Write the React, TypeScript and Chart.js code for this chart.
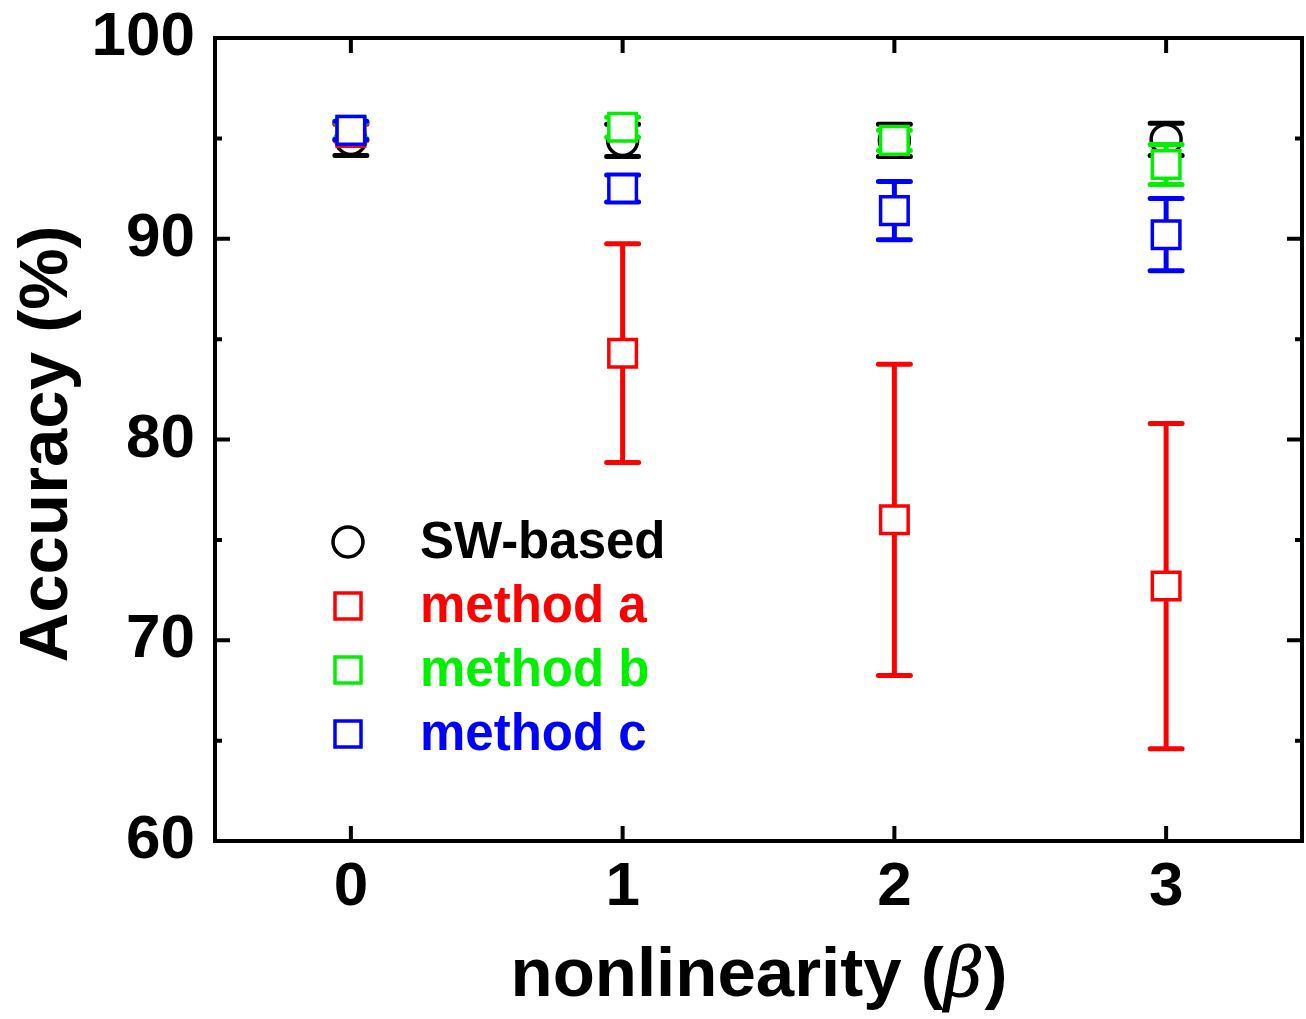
import React, { useEffect, useRef } from 'react';
import { Chart, registerables } from 'chart.js';

Chart.register(...registerables);

const xValues = [0, 1, 2, 3];
const xTicks = [0, 1, 2, 3];
const yMajorTicks = [60, 70, 80, 90, 100];
const yMinorTicks = [65, 75, 85, 95];
const seriesLabels = ['SW-based', 'method a', 'method b', 'method c'];
const seriesColors = ['#000000', '#ff0000', '#00f000', '#0000ff'];
const swBased = [94.95, 94.9, 94.9, 94.95];
const swBasedErr = [0.8, 0.8, 0.8, 0.8];
const methodA = [95.3, 84.3, 76.0, 72.7];
const methodAErr = [0.4, 5.45, 7.75, 8.1];
const methodB = [95.4, 95.55, 94.9, 93.7];
const methodBErr = [0.4, 0.5, 0.5, 1.0];
const methodC = [95.4, 92.5, 91.4, 90.2];
const methodCErr = [0.45, 0.67, 1.45, 1.8];
const xTitle = ['nonlinearity (', 'β', ')'];
const yTitle = 'Accuracy (%)';

const FONT = "Arial, 'Liberation Sans', sans-serif";
const CANVAS_W = 1306;
const CANVAS_H = 1019;
const AREA_RIGHT = 1302;

const errorBarPlugin = {
  id: 'errorBars',
  beforeDatasetDraw(chart: any, args: any) {
    const ds = chart.data.datasets[args.index];
    const errs: number[] = ds.errors || [];
    const yScale = chart.scales.y;
    const ctx = chart.ctx;
    ctx.save();
    ctx.strokeStyle = ds.borderColor;
    ctx.lineWidth = 5;
    ctx.lineCap = 'round';
    args.meta.data.forEach((pt: any, i: number) => {
      const v = ds.data[i].y;
      const e = errs[i] || 0;
      const yTop = yScale.getPixelForValue(v + e);
      const yBot = yScale.getPixelForValue(v - e);
      const x = pt.x;
      const cap = 16;
      ctx.beginPath();
      ctx.moveTo(x, yTop);
      ctx.lineTo(x, yBot);
      ctx.moveTo(x - cap, yTop);
      ctx.lineTo(x + cap, yTop);
      ctx.moveTo(x - cap, yBot);
      ctx.lineTo(x + cap, yBot);
      ctx.stroke();
    });
    ctx.restore();
  },
  afterDraw(chart: any) {
    const ctx = chart.ctx;
    const { left, right, top, bottom } = chart.chartArea;
    const xs = chart.scales.x;
    const ys = chart.scales.y;
    ctx.save();
    ctx.strokeStyle = '#000';
    ctx.lineWidth = 4;
    ctx.lineCap = 'square';
    ctx.strokeRect(left, top, right - left, bottom - top);
    ctx.lineCap = 'butt';
    const major = 15;
    const minor = 7;
    ctx.beginPath();
    xTicks.forEach((v) => {
      const x = xs.getPixelForValue(v);
      ctx.moveTo(x, bottom);
      ctx.lineTo(x, bottom - major);
      ctx.moveTo(x, top);
      ctx.lineTo(x, top + major);
    });
    yMajorTicks.forEach((v) => {
      const y = ys.getPixelForValue(v);
      ctx.moveTo(left, y);
      ctx.lineTo(left + major, y);
      ctx.moveTo(right, y);
      ctx.lineTo(right - major, y);
    });
    yMinorTicks.forEach((v) => {
      const y = ys.getPixelForValue(v);
      ctx.moveTo(left, y);
      ctx.lineTo(left + minor, y);
      ctx.moveTo(right, y);
      ctx.lineTo(right - minor, y);
    });
    ctx.stroke();

    // legend
    const lx = left + 133;
    const tx = left + 205;
    const ly0 = 542;
    const dy = 64;
    chart.data.datasets.forEach((ds: any, i: number) => {
      const y = ly0 + i * dy;
      ctx.strokeStyle = ds.borderColor;
      ctx.fillStyle = '#fff';
      ctx.lineWidth = 3.5;
      ctx.beginPath();
      if (ds.pointStyle === 'circle') {
        ctx.arc(lx, y, 15, 0, Math.PI * 2);
      } else {
        ctx.rect(lx - 13, y - 13, 26, 26);
      }
      ctx.fill();
      ctx.stroke();
      ctx.fillStyle = ds.borderColor;
      ctx.font = `bold 51px ${FONT}`;
      ctx.textAlign = 'left';
      ctx.textBaseline = 'middle';
      ctx.fillText(ds.label, tx, y + 2);
    });

    // x title
    ctx.fillStyle = '#000';
    ctx.textBaseline = 'alphabetic';
    const fB = `bold 69px ${FONT}`;
    const fI = `italic 74px 'Liberation Serif', 'Times New Roman', serif`;
    ctx.font = fB;
    const w0 = ctx.measureText(xTitle[0]).width;
    const w2 = ctx.measureText(xTitle[2]).width;
    ctx.font = fI;
    const w1 = ctx.measureText(xTitle[1]).width;
    const gap = 4;
    const cx = 759 - (w0 + w1 + w2 + gap) / 2;
    const by = 996;
    ctx.textAlign = 'left';
    ctx.font = fB;
    ctx.fillText(xTitle[0], cx, by);
    ctx.font = fI;
    ctx.fillText(xTitle[1], cx + w0, by);
    ctx.lineWidth = 1.2;
    ctx.strokeStyle = '#000';
    ctx.strokeText(xTitle[1], cx + w0, by);
    ctx.font = fB;
    ctx.fillText(xTitle[2], cx + w0 + w1 + gap, by);

    // y title
    ctx.save();
    ctx.translate(48, 444);
    ctx.rotate(-Math.PI / 2);
    ctx.font = `bold 69px ${FONT}`;
    ctx.textAlign = 'center';
    ctx.textBaseline = 'middle';
    ctx.fillText(yTitle, 0, 0);
    ctx.restore();
    ctx.restore();
  },
};

function makeData(vals: number[]) {
  return xValues.map((x, i) => ({ x, y: vals[i] }));
}

function zeroPadding(scale: any) {
  scale.paddingLeft = 0;
  scale.paddingRight = 0;
  scale.paddingTop = 0;
  scale.paddingBottom = 0;
}

const fixAreaPlugin = {
  id: 'fixArea',
  afterLayout(chart: any) {
    const ca = chart.chartArea;
    const diff = AREA_RIGHT - ca.right;
    if (Math.abs(diff) > 0.5) {
      ca.right = AREA_RIGHT;
      ca.width = ca.right - ca.left;
      const xs = chart.scales.x;
      xs.right = AREA_RIGHT;
      xs.width = xs.right - xs.left;
      xs.configure();
    }
  },
};

export default function App() {
  const ref = useRef<HTMLCanvasElement>(null);
  useEffect(() => {
    if (!ref.current) return;
    const seriesVals = [swBased, methodA, methodB, methodC];
    const seriesErrs = [swBasedErr, methodAErr, methodBErr, methodCErr];
    const chart = new Chart(ref.current, {
      type: 'scatter',
      data: {
        datasets: seriesLabels.map((label, i) => ({
          label,
          data: makeData(seriesVals[i]),
          errors: seriesErrs[i],
          borderColor: seriesColors[i],
          backgroundColor: '#ffffff',
          pointStyle: i === 0 ? 'circle' : 'rect',
          pointRadius: i === 0 ? 15 : 19.5,
          pointHoverRadius: i === 0 ? 15 : 19.5,
          pointBorderWidth: 3.5,
          pointHoverBorderWidth: 3.5,
          pointBackgroundColor: '#ffffff',
          showLine: false,
          order: 4 - i,
          clip: false,
        })) as any,
      },
      options: {
        animation: false,
        responsive: false,
        events: [],
        layout: { padding: { top: 38, right: 4, left: 0, bottom: 0 } },
        plugins: { legend: { display: false }, tooltip: { enabled: false } },
        scales: {
          x: {
            type: 'linear',
            min: -0.5,
            max: 3.5,
            grid: { display: false, drawTicks: false },
            border: { display: false },
            afterBuildTicks: (scale: any) => {
              scale.ticks = xTicks.map((v) => ({ value: v }));
            },
            afterFit: (scale: any) => {
              scale.height = 178;
              zeroPadding(scale);
            },
            ticks: {
              color: '#000',
              padding: 10,
              maxRotation: 0,
              font: { family: FONT, size: 62, weight: 'bold' },
              callback: (v: any) => String(v),
            },
          },
          y: {
            type: 'linear',
            min: 60,
            max: 100,
            grid: { display: false, drawTicks: false },
            border: { display: false },
            afterBuildTicks: (scale: any) => {
              scale.ticks = yMajorTicks.map((v) => ({ value: v }));
            },
            afterFit: (scale: any) => {
              scale.width = 215;
              zeroPadding(scale);
            },
            ticks: {
              color: '#000',
              padding: 20,
              font: { family: FONT, size: 62, weight: 'bold' },
              callback: (v: any) => String(v),
            },
          },
        },
      } as any,
      plugins: [fixAreaPlugin, errorBarPlugin],
    });
    return () => chart.destroy();
  }, []);
  return (
    <div style={{ position: 'fixed', left: 0, top: 0, width: CANVAS_W, height: CANVAS_H, background: '#fff' }}>
      <canvas ref={ref} width={CANVAS_W} height={CANVAS_H} />
    </div>
  );
}
